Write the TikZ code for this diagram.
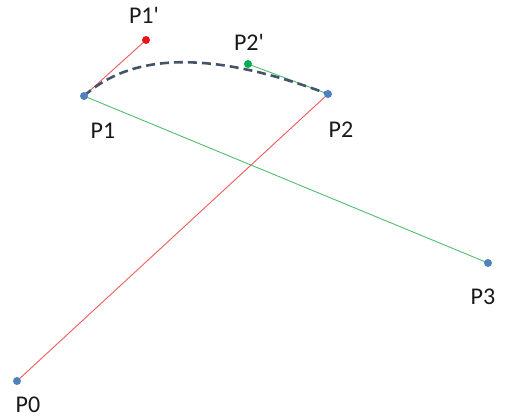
\documentclass[tikz,border=0pt]{standalone}
\usepackage{fontspec}
\setmainfont{Carlito}
\usepackage{tikz}
\usetikzlibrary{backgrounds, calc, positioning}
\definecolor{ptblue}{RGB}{79,129,189}
\definecolor{ptred}{RGB}{240,90,90}
\definecolor{ptgreen}{RGB}{80,190,110}
\definecolor{dotred}{RGB}{235,20,20}
\definecolor{dotgreen}{RGB}{0,176,80}
\definecolor{curveblue}{RGB}{68,84,106}

\begin{document}
\begin{tikzpicture}[x=1pt, y=-1pt,
	dot/.style={circle, fill=ptblue, inner sep=0pt, minimum size=8pt},
	lbl/.style={font=\fontsize{24}{28}\selectfont, text=black!90},
	redline/.style={ptred, line width=0.9pt},
	greenline/.style={ptgreen, line width=0.9pt},
	curve/.style={curveblue, line width=2.6pt, dash pattern=on 9pt off 5pt}]

\useasboundingbox (0,0) rectangle (505,418);

% control points
\node[dot] (P0) at (17,381) {};
\node[dot] (P1) at (84,96) {};
\node[dot] (P2) at (328,94) {};
\node[dot] (P3) at (488,263) {};
\node[dot, fill=dotred] (P1c) at (146,40) {};
\node[dot, fill=dotgreen] (P2c) at (248,64) {};

% labels
\node[lbl] (lP0) at (28,405) {P0};
\node[lbl] (lP1) at (103,131) {P1};
\node[lbl] (lP2) at (341,130) {P2};
\node[lbl] (lP3) at (483,297) {P3};
\node[lbl] (lP1c) at (144,15) {P1\textquotesingle};
\node[lbl] (lP2c) at (249,42) {P2\textquotesingle};

\begin{scope}[on background layer]
\draw[redline] (P0.center) -- (P2.center);
\draw[redline] (P1.center) -- (P1c.center);
\draw[greenline] (P1.center) -- (P3.center);
\draw[greenline] (P2c.center) -- (P2.center);
\draw[curve] (P1.center) .. controls (P1c.center) and (P2c.center) .. (P2.center);
\end{scope}
\end{tikzpicture}
\end{document}
